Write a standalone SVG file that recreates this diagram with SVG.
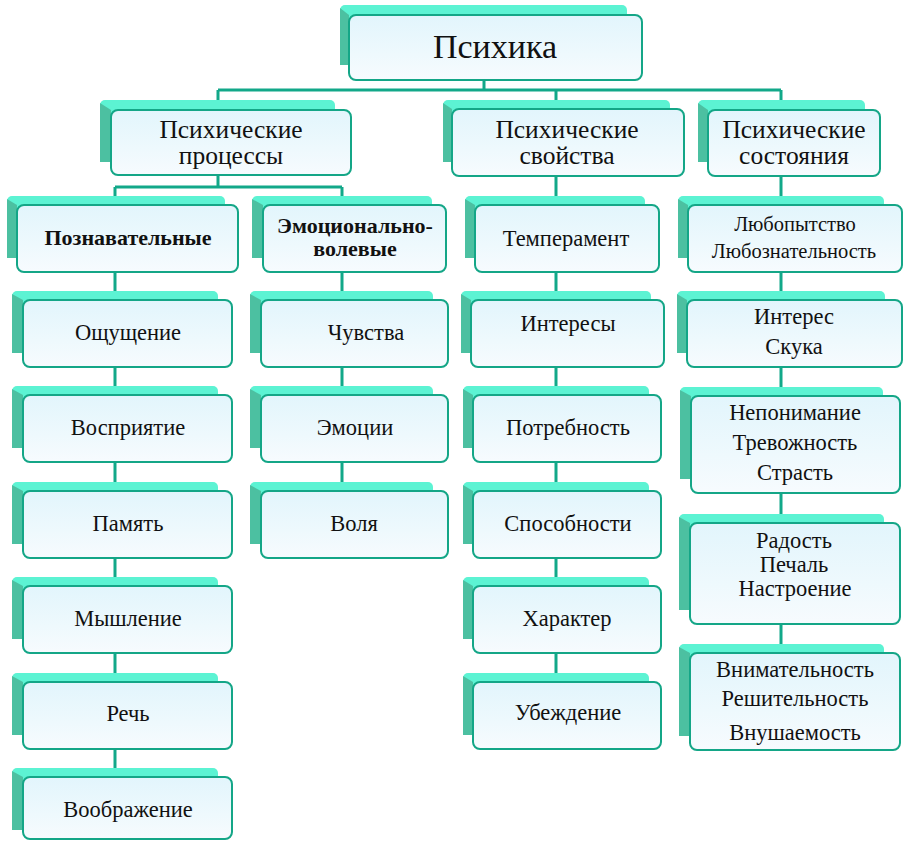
<svg xmlns="http://www.w3.org/2000/svg" width="905" height="842" viewBox="0 0 905 842">
<defs>
<linearGradient id="gFront" x1="0" y1="0" x2="0" y2="1">
<stop offset="0" stop-color="#e2f5fc"/>
<stop offset="0.6" stop-color="#eef9fd"/>
<stop offset="1" stop-color="#f7fbfe"/>
</linearGradient>
<style>
.back{fill:#5cf3d3;}
.bev{fill:#4cc0a1;}
.front{fill:url(#gFront);stroke:#14a687;stroke-width:2;}
.conn{fill:none;stroke:#12a889;stroke-width:3;}
text{font-family:'Liberation Serif','Times New Roman',serif;fill:#111;text-anchor:middle;}
.t0{font-size:34px;}
.t1{font-size:25.5px;}
.t2{font-size:22.5px;}
.t3{font-size:20.5px;}
.tb{font-size:22px;font-weight:bold;}
</style>
</defs>
<rect width="905" height="842" fill="#ffffff"/>
<g id="connectors">
<path class="conn" d="M484 78V90M218 90H781M218 90V102M556 90V684M781 90V655M218 174V187M115 187H342M115 187V779M342 187V493"/>
</g>
<g id="n-psikhika">
<rect class="back" x="340" y="5" width="287" height="60" rx="5"/>
<polygon class="bev" points="340,8 349,15 349,65 340,65"/>
<rect class="front" x="349" y="15" width="293" height="65" rx="7"/>
<text class="t0" x="495" y="58">Психика</text>
</g>
<g id="n-processy">
<rect class="back" x="100" y="100" width="235" height="62" rx="5"/>
<polygon class="bev" points="100,103 111,110 111,162 100,162"/>
<rect class="front" x="111" y="110" width="240" height="65" rx="7"/>
<text class="t1" x="231" y="138">Психические</text>
<text class="t1" x="231" y="164">процессы</text>
</g>
<g id="n-svoistva">
<rect class="back" x="443" y="100" width="227" height="62" rx="5"/>
<polygon class="bev" points="443,103 452,109 452,162 443,162"/>
<rect class="front" x="452" y="109" width="232" height="67" rx="7"/>
<text class="t1" x="567" y="138">Психические</text>
<text class="t1" x="567" y="164">свойства</text>
</g>
<g id="n-sostoyaniya">
<rect class="back" x="698" y="100" width="167" height="62" rx="5"/>
<polygon class="bev" points="698,103 708,110 708,162 698,162"/>
<rect class="front" x="708" y="110" width="172" height="66" rx="7"/>
<text class="t1" x="794" y="138">Психические</text>
<text class="t1" x="794" y="164">состояния</text>
</g>
<g id="n-poznavatelnye">
<rect class="back" x="7" y="196" width="218" height="62" rx="5"/>
<polygon class="bev" points="7,199 17,205 17,258 7,258"/>
<rect class="front" x="17" y="205" width="221" height="67" rx="7"/>
<text class="tb" x="128" y="245">Познавательные</text>
</g>
<g id="n-emocionalno">
<rect class="back" x="252" y="196" width="180" height="62" rx="5"/>
<polygon class="bev" points="252,199 263,205 263,258 252,258"/>
<rect class="front" x="263" y="205" width="183" height="67" rx="7"/>
<text class="tb" x="355" y="233">Эмоционально-</text>
<text class="tb" x="355" y="256">волевые</text>
</g>
<g id="n-temperament">
<rect class="back" x="465" y="196" width="180" height="62" rx="5"/>
<polygon class="bev" points="465,199 475,205 475,258 465,258"/>
<rect class="front" x="475" y="205" width="184" height="67" rx="7"/>
<text class="t2" x="566" y="246">Темперамент</text>
</g>
<g id="n-lyubopytstvo">
<rect class="back" x="678" y="196" width="206" height="62" rx="5"/>
<polygon class="bev" points="678,199 688,205 688,258 678,258"/>
<rect class="front" x="688" y="205" width="214" height="67" rx="7"/>
<text class="t3" x="795" y="231">Любопытство</text>
<text class="t3" x="794" y="258">Любознательность</text>
</g>
<g id="n-oshchushchenie">
<rect class="back" x="12" y="291" width="206" height="62" rx="5"/>
<polygon class="bev" points="12,294 23,300 23,353 12,353"/>
<rect class="front" x="23" y="300" width="209" height="67" rx="7"/>
<text class="t2" x="128" y="340">Ощущение</text>
</g>
<g id="n-vospriyatie">
<rect class="back" x="12" y="386" width="206" height="62" rx="5"/>
<polygon class="bev" points="12,389 23,395 23,448 12,448"/>
<rect class="front" x="23" y="395" width="209" height="67" rx="7"/>
<text class="t2" x="128" y="435">Восприятие</text>
</g>
<g id="n-pamyat">
<rect class="back" x="12" y="482" width="206" height="62" rx="5"/>
<polygon class="bev" points="12,485 23,491 23,544 12,544"/>
<rect class="front" x="23" y="491" width="209" height="67" rx="7"/>
<text class="t2" x="128" y="531">Память</text>
</g>
<g id="n-myshlenie">
<rect class="back" x="12" y="577" width="206" height="62" rx="5"/>
<polygon class="bev" points="12,580 23,586 23,639 12,639"/>
<rect class="front" x="23" y="586" width="209" height="67" rx="7"/>
<text class="t2" x="128" y="626">Мышление</text>
</g>
<g id="n-rech">
<rect class="back" x="12" y="673" width="206" height="62" rx="5"/>
<polygon class="bev" points="12,676 23,682 23,735 12,735"/>
<rect class="front" x="23" y="682" width="209" height="67" rx="7"/>
<text class="t2" x="128" y="721">Речь</text>
</g>
<g id="n-voobrazhenie">
<rect class="back" x="12" y="768" width="206" height="62" rx="5"/>
<polygon class="bev" points="12,771 23,777 23,830 12,830"/>
<rect class="front" x="23" y="777" width="209" height="62" rx="7"/>
<text class="t2" x="128" y="817">Воображение</text>
</g>
<g id="n-chuvstva">
<rect class="back" x="250" y="291" width="183" height="62" rx="5"/>
<polygon class="bev" points="250,294 261,300 261,353 250,353"/>
<rect class="front" x="261" y="300" width="187" height="67" rx="7"/>
<text class="t2" x="366" y="340">Чувства</text>
</g>
<g id="n-emocii">
<rect class="back" x="250" y="386" width="183" height="62" rx="5"/>
<polygon class="bev" points="250,389 261,395 261,448 250,448"/>
<rect class="front" x="261" y="395" width="187" height="67" rx="7"/>
<text class="t2" x="355" y="435">Эмоции</text>
</g>
<g id="n-volya">
<rect class="back" x="250" y="482" width="183" height="62" rx="5"/>
<polygon class="bev" points="250,485 261,491 261,544 250,544"/>
<rect class="front" x="261" y="491" width="187" height="67" rx="7"/>
<text class="t2" x="354" y="531">Воля</text>
</g>
<g id="n-interesy">
<rect class="back" x="461" y="291" width="190" height="62" rx="5"/>
<polygon class="bev" points="461,294 471,300 471,353 461,353"/>
<rect class="front" x="471" y="300" width="193" height="67" rx="7"/>
<text class="t2" x="568" y="331">Интересы</text>
</g>
<g id="n-potrebnost">
<rect class="back" x="463" y="386" width="186" height="62" rx="5"/>
<polygon class="bev" points="463,389 473,395 473,448 463,448"/>
<rect class="front" x="473" y="395" width="188" height="67" rx="7"/>
<text class="t2" x="568" y="435">Потребность</text>
</g>
<g id="n-sposobnosti">
<rect class="back" x="463" y="482" width="186" height="62" rx="5"/>
<polygon class="bev" points="463,485 473,491 473,544 463,544"/>
<rect class="front" x="473" y="491" width="188" height="67" rx="7"/>
<text class="t2" x="568" y="531">Способности</text>
</g>
<g id="n-kharakter">
<rect class="back" x="463" y="577" width="186" height="62" rx="5"/>
<polygon class="bev" points="463,580 473,586 473,639 463,639"/>
<rect class="front" x="473" y="586" width="188" height="67" rx="7"/>
<text class="t2" x="567" y="626">Характер</text>
</g>
<g id="n-ubezhdenie">
<rect class="back" x="463" y="673" width="186" height="62" rx="5"/>
<polygon class="bev" points="463,676 473,682 473,735 463,735"/>
<rect class="front" x="473" y="682" width="188" height="67" rx="7"/>
<text class="t2" x="568" y="720">Убеждение</text>
</g>
<g id="n-interes-skuka">
<rect class="back" x="677" y="291" width="208" height="62" rx="5"/>
<polygon class="bev" points="677,294 687,300 687,353 677,353"/>
<rect class="front" x="687" y="300" width="215" height="67" rx="7"/>
<text class="t2" x="794" y="324">Интерес</text>
<text class="t2" x="794" y="354">Скука</text>
</g>
<g id="n-neponimanie">
<rect class="back" x="680" y="387" width="203" height="92" rx="5"/>
<polygon class="bev" points="680,390 691,396 691,479 680,479"/>
<rect class="front" x="691" y="396" width="209" height="97" rx="7"/>
<text class="t2" x="795" y="420">Непонимание</text>
<text class="t2" x="795" y="450">Тревожность</text>
<text class="t2" x="795" y="480">Страсть</text>
</g>
<g id="n-radost">
<rect class="back" x="679" y="514" width="205" height="96" rx="5"/>
<polygon class="bev" points="679,517 690,523 690,610 679,610"/>
<rect class="front" x="690" y="523" width="210" height="101" rx="7"/>
<text class="t2" x="794" y="548">Радость</text>
<text class="t2" x="794" y="572">Печаль</text>
<text class="t2" x="795" y="596">Настроение</text>
</g>
<g id="n-vnimatelnost">
<rect class="back" x="679" y="644" width="205" height="92" rx="5"/>
<polygon class="bev" points="679,647 690,653 690,736 679,736"/>
<rect class="front" x="690" y="653" width="210" height="97" rx="7"/>
<text class="t2" x="795" y="677">Внимательность</text>
<text class="t2" x="795" y="706">Решительность</text>
<text class="t2" x="795" y="740">Внушаемость</text>
</g>
</svg>
